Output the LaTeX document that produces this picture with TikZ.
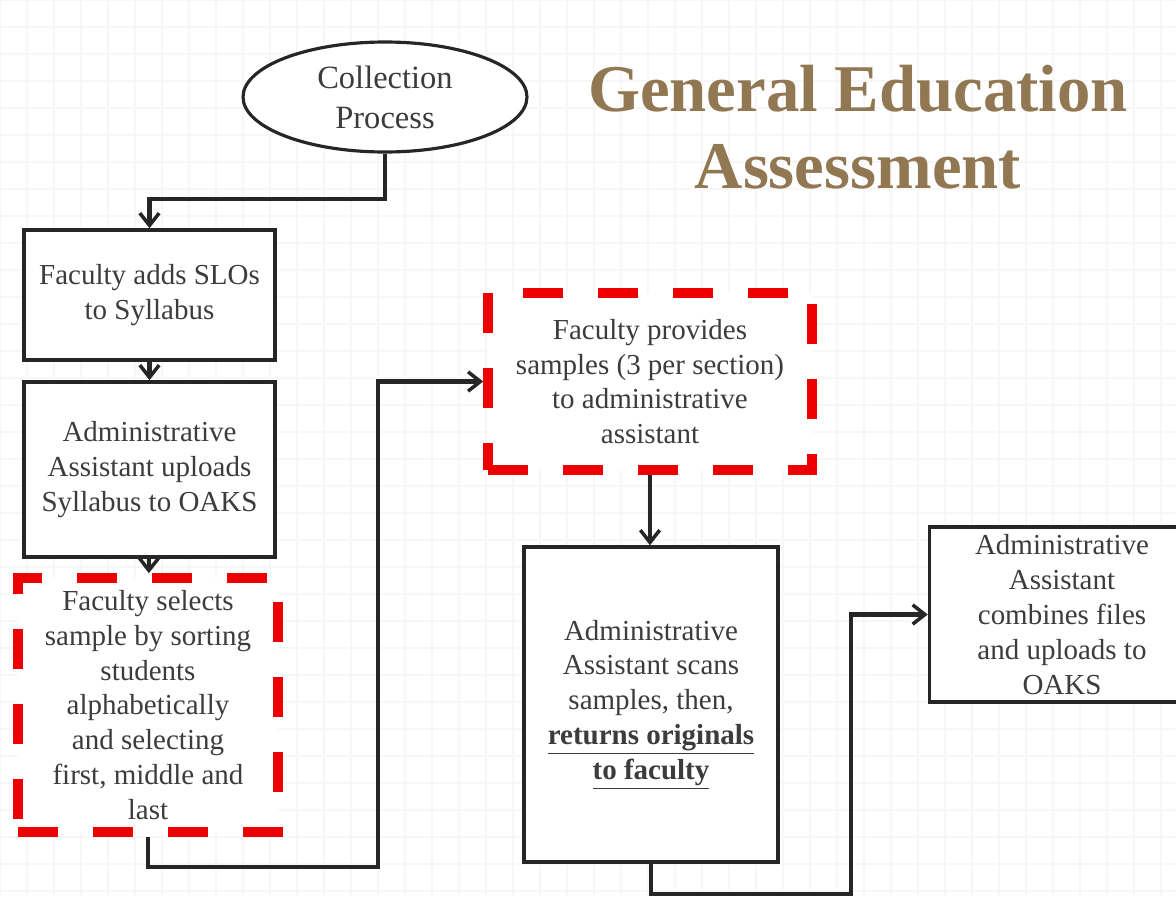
\documentclass[tikz,border=0pt]{standalone}
\usepackage{fontspec}
\setmainfont{Liberation Serif}
\usetikzlibrary{shapes.geometric, arrows.meta, positioning}
\definecolor{textgray}{RGB}{60,60,60}
\definecolor{titlebrown}{RGB}{146,120,82}
\definecolor{dashred}{RGB}{236,0,0}
\definecolor{gridgray}{RGB}{247,247,247}

\begin{document}
\begin{tikzpicture}[
  x=0.02cm, y=-0.02cm,
  block/.style={rectangle, draw=black!85, line width=2pt, fill=white,
    text=textgray, align=center, inner sep=0pt,
    font=\fontsize{16.5}{19.8}\selectfont},
  redblock/.style={block, draw=dashred, line width=5.5pt,
    dash pattern=on 0.8cm off 0.7cm},
  startnod/.style={ellipse, draw=black!85, line width=1.8pt, fill=white,
    text=textgray, align=center, inner sep=0pt,
    minimum width=5.68cm, minimum height=2.2cm,
    font=\fontsize{18.5}{22.7}\selectfont},
  titlenod/.style={text=titlebrown, align=center,
    font=\fontsize{38}{44}\selectfont\bfseries},
  arr/.style={-{Straight Barb[length=7pt, width=11pt, line width=2pt]},
    line width=2.3pt, draw=black!85}
]
  % page and faint grid
  \clip (0,0) rectangle (1176,896);
  \fill[white] (0,0) rectangle (1176,896);
  \foreach \gx in {0,27,...,1176}
    \draw[gridgray, line width=0.6pt] (\gx,0) -- (\gx,896);
  \foreach \gy in {0,27,...,896}
    \draw[gridgray, line width=0.6pt] (0,\gy) -- (1176,\gy);

  \node[startnod] (start) at (385,97) {Collection\\Process};
  \node[titlenod] (title) at (858,127) {General Education\\Assessment};

  \node[block, minimum width=5.02cm, minimum height=2.6cm] (slos)
    at (149.5,295) {Faculty adds SLOs\\to Syllabus};
  \node[block, minimum width=5.02cm, minimum height=3.5cm] (upload)
    at (149.5,469.5) {Administrative\\Assistant uploads\\Syllabus to OAKS};
  \node[redblock, minimum width=5.2cm, minimum height=5.08cm] (select)
    at (148,705) {Faculty selects\\sample by sorting\\students\\alphabetically\\and selecting\\first, middle and\\last};
  \node[redblock, minimum width=6.48cm, minimum height=3.54cm] (provide)
    at (650,381.5) {Faculty provides\\samples (3 per section)\\to administrative\\assistant};
  \node[block, minimum width=5.08cm, minimum height=6.3cm] (scan)
    at (651,704.5) {Administrative\\Assistant scans\\samples, then,\\\textbf{\underline{returns originals}}\\\textbf{\underline{to faculty}}};
  \node[block, minimum width=5.3cm, minimum height=3.5cm] (combine)
    at (1062,614.5) {Administrative\\Assistant\\combines files\\and uploads to\\OAKS};

  \draw[arr] (start.south) -- ++(0,45) -| (slos.north);
  \draw[arr] (slos) -- (upload);
  \draw[arr] (upload) -- (select);
  \draw[arr] (select.south) -- ++(0,30) -| ([xshift=-2.1cm]provide.west)
    -- (provide.west);
  \draw[arr] (provide.south) -- (provide.south |- scan.north);
  \draw[arr] (scan.south) -- ++(0,30) -| ([xshift=-1.54cm]combine.west)
    -- (combine.west);
\end{tikzpicture}
\end{document}
